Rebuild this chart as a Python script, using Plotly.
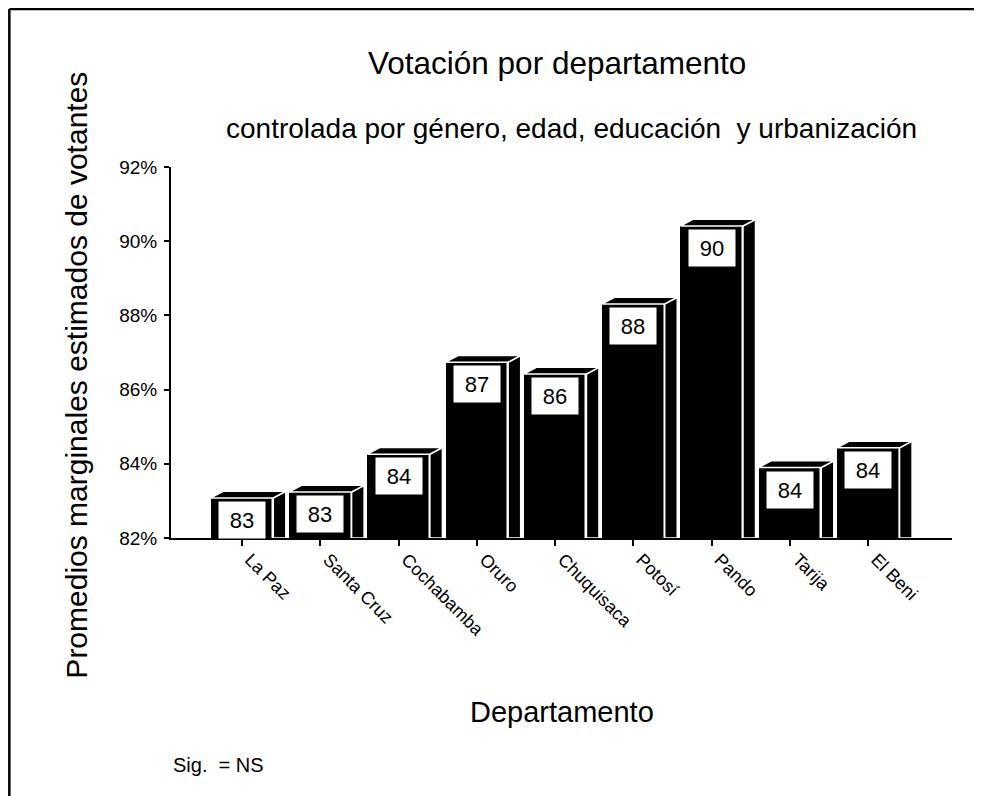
import plotly.graph_objects as go

departamentos = ["La Paz", "Santa Cruz", "Cochabamba", "Oruro", "Chuquisaca",
                 "Potosí", "Pando", "Tarija", "El Beni"]
promedios = [83.08, 83.24, 84.26, 86.74, 86.42, 88.31, 90.41, 83.9, 84.43]
etiquetas = ["83", "83", "84", "87", "86", "88", "90", "84", "84"]
y_ticks = [82, 84, 86, 88, 90, 92]

FONT = "Liberation Sans, Arial, sans-serif"
W = 0.8      # bar width (category units)
DX = 0.16    # 3D depth in x (category units)
DY = 0.18    # 3D depth in y (percent units)
Y0 = 82

xs = list(range(len(departamentos)))

fig = go.Figure()

# front faces
fig.add_trace(go.Bar(
    x=xs, y=promedios, width=W,
    marker=dict(color="black", line=dict(color="white", width=1.5)),
    hoverinfo="skip", showlegend=False,
))

# side faces and top faces
side_x, side_y, top_x, top_y = [], [], [], []
for i, v in zip(xs, promedios):
    xl, xr = i - W / 2, i + W / 2
    side_x += [xr, xr, xr + DX, xr + DX, xr, None]
    side_y += [Y0, v, v + DY, Y0, Y0, None]
    top_x += [xl, xl + DX, xr + DX, xr, xl, None]
    top_y += [v, v + DY, v + DY, v, v, None]

for px, py in ((side_x, side_y), (top_x, top_y)):
    fig.add_trace(go.Scatter(
        x=px, y=py, mode="lines", fill="toself", fillcolor="black",
        line=dict(color="white", width=1.5), hoverinfo="skip",
        showlegend=False, cliponaxis=True,
    ))

# value labels
for i, v, t in zip(xs, promedios, etiquetas):
    fig.add_annotation(
        x=i, y=v, xref="x", yref="y", text=t, showarrow=False,
        yanchor="top", yshift=-3, bgcolor="white", width=34, height=24,
        borderpad=6, font=dict(family=FONT, size=22, color="black"),
    )

texts = [
    dict(text="Votación por departamento", x=0.494, y=1.280, size=31.5),
    dict(text="controlada por género, edad, educación  y urbanización", x=0.513, y=1.105, size=28),
    dict(text="Departamento", x=0.5006, y=-0.469, size=29),
]
for t in texts:
    fig.add_annotation(text=t["text"], x=t["x"], y=t["y"], xref="paper", yref="paper",
                       showarrow=False, xanchor="center", yanchor="middle",
                       font=dict(family=FONT, size=t["size"], color="black"))

fig.add_annotation(text="Promedios marginales estimados de votantes", x=-0.121, y=0.439,
                   xref="paper", yref="paper", showarrow=False, textangle=-90,
                   xanchor="center", yanchor="middle",
                   font=dict(family=FONT, size=30, color="black"))
fig.add_annotation(text="Sig.  = NS", x=0.0, y=-0.612, xref="paper", yref="paper",
                   showarrow=False, xanchor="left", yanchor="middle",
                   font=dict(family=FONT, size=20, color="black"))

# frame (only top and left edges visible in the picture)
fig.add_shape(type="line", xref="paper", yref="paper",
              x0=-0.207, x1=1.3, y0=1.426, y1=1.426,
              line=dict(color="black", width=2.5), layer="above")
fig.add_shape(type="line", xref="paper", yref="paper",
              x0=-0.207, x1=-0.207, y0=-1.0, y1=1.426,
              line=dict(color="black", width=2.5), layer="above")

fig.update_layout(
    width=974, height=788,
    margin=dict(l=163, r=30, t=159, b=258),
    paper_bgcolor="white", plot_bgcolor="white",
    bargap=0, showlegend=False,
    xaxis=dict(
        range=[-0.907, 9.07], tickmode="array", tickvals=xs, ticktext=departamentos,
        tickangle=45, ticks="outside", ticklen=6, tickwidth=2, tickcolor="black",
        ticklabelstandoff=-4, ticklabelshift=8,
        showline=True, linecolor="black", linewidth=2, showgrid=False, zeroline=False,
        tickfont=dict(family=FONT, size=18, color="black"),
    ),
    yaxis=dict(
        range=[82, 92], tickmode="array", tickvals=y_ticks,
        ticktext=[f"{v}%" for v in y_ticks],
        ticks="outside", ticklen=5, tickwidth=2, tickcolor="black",
        ticklabelstandoff=3,
        showline=True, linecolor="black", linewidth=2, showgrid=False, zeroline=False,
        tickfont=dict(family=FONT, size=19, color="black"),
    ),
)

fig.write_html("out.html")
